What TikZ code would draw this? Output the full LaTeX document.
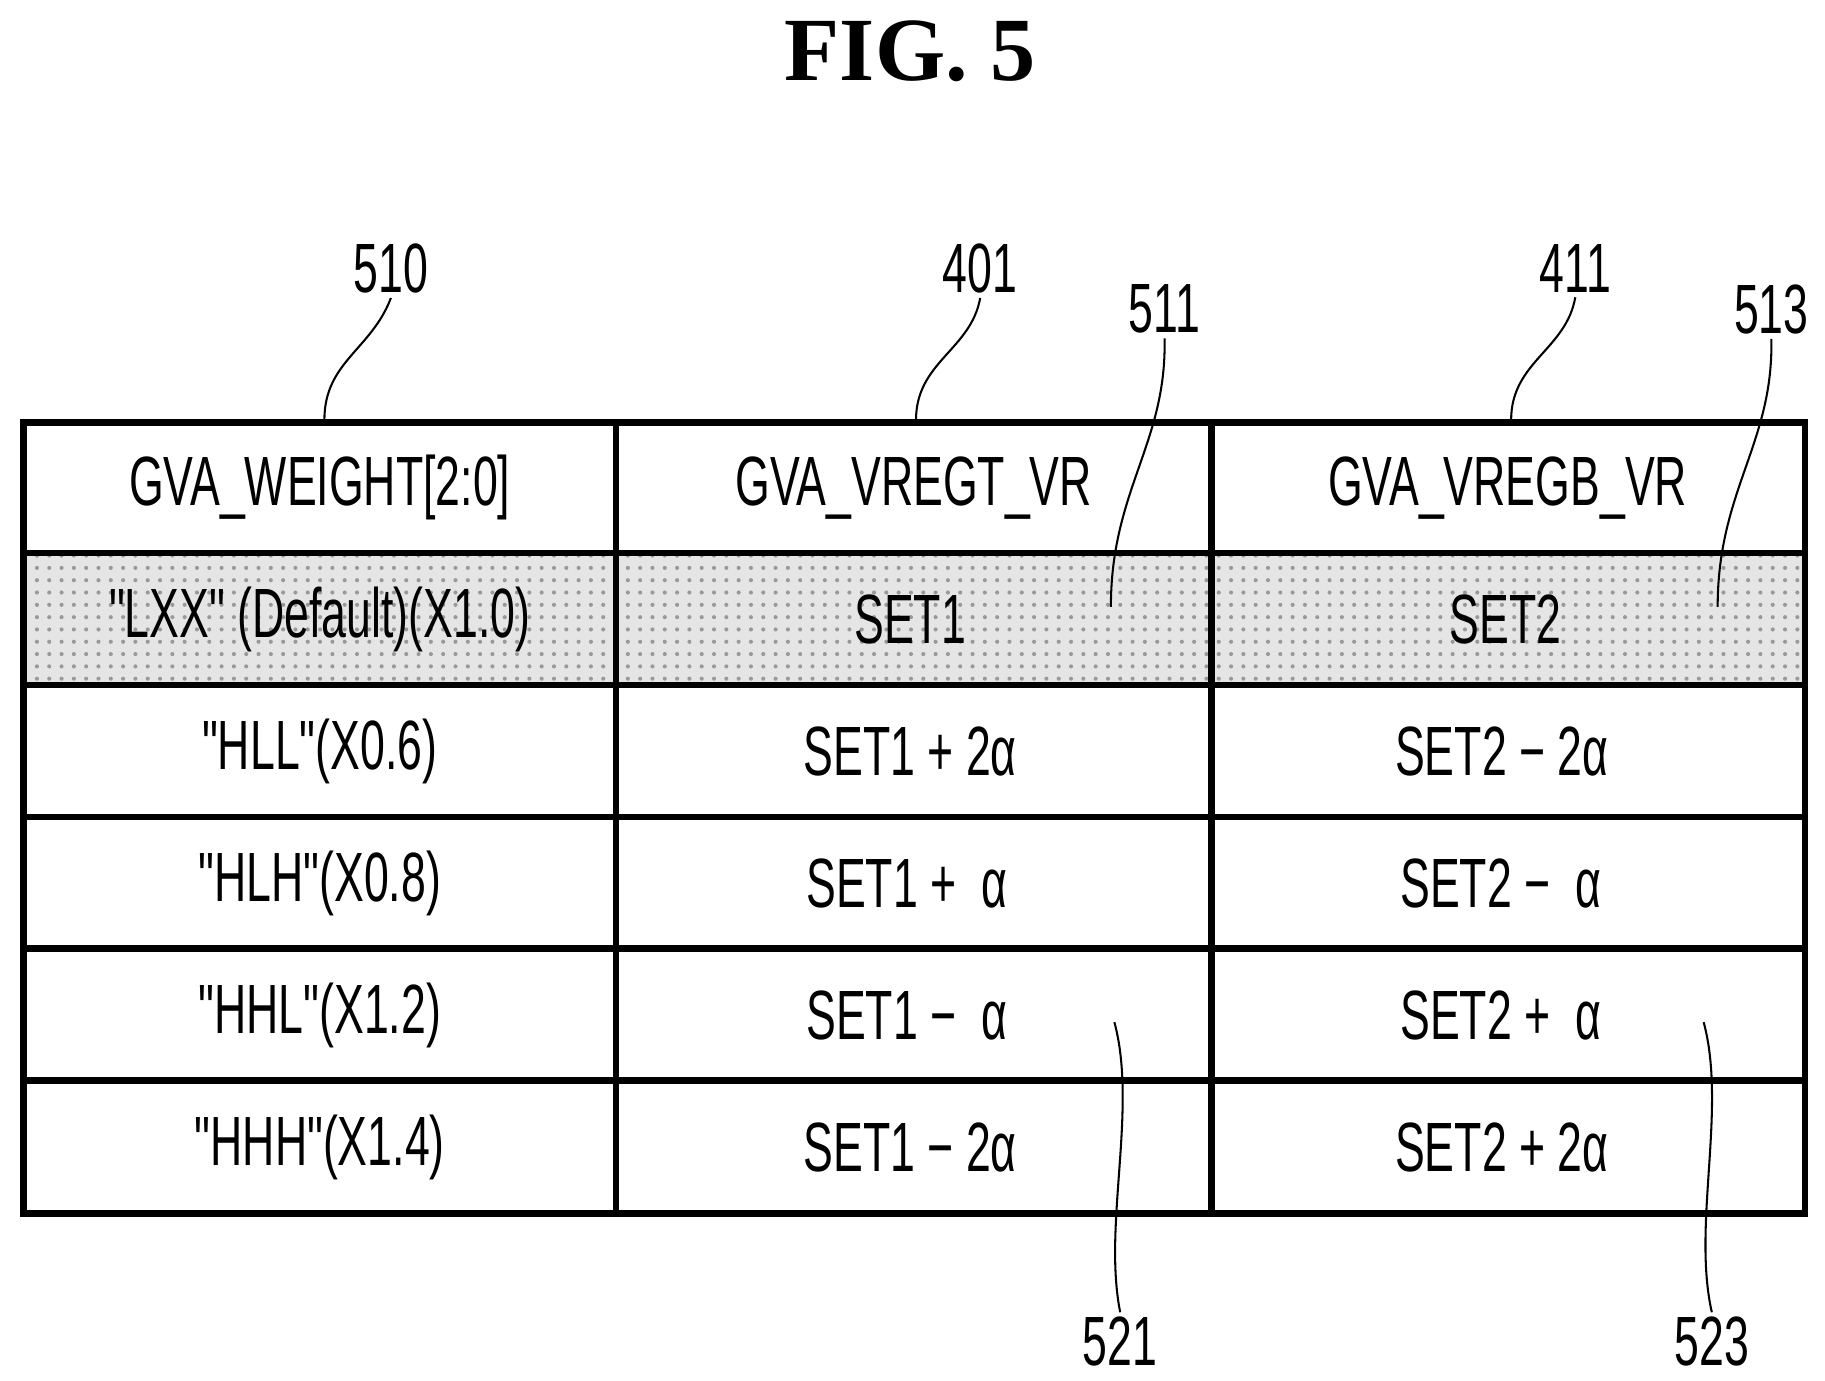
\documentclass[tikz,border=0pt]{standalone}
\usepackage{fontspec}
\usepackage{graphicx}
\setmainfont{Liberation Sans}
\newfontfamily\cellfont{Liberation Sans}
\newfontfamily\figfont{Liberation Serif}
\usetikzlibrary{patterns}
\newcommand{\nt}[1]{{\cellfont\fontsize{17}{19}\selectfont\scalebox{0.64}[1]{#1}}}
\begin{document}
\begin{tikzpicture}[x=0.01cm,y=-0.01cm,
  cell/.style={inner sep=0pt},
  lbl/.style={inner sep=1pt},
  lead/.style={line width=0.5pt},
  grid/.style={line width=1.6pt}]
\useasboundingbox (0,0) rectangle (1564,1183);
\node[font=\figfont\bfseries\fontsize{22}{24}\selectfont] (title) at (780,44) {FIG. 5};
% shaded row
\fill[black!10] (20,474) rectangle (1547,587);
\fill[pattern=dots,pattern color=black!40] (20,474) rectangle (1547,587);
% grid
\draw[grid] (20,362) rectangle (1547,1040);
\foreach \x in {528,1038} \draw[grid] (\x,362) -- (\x,1040);
\foreach \y in {474,587,700,813,926} \draw[grid] (20,\y) -- (1547,\y);
% texts
\node[cell] (h1) at (274,418) {\nt{GVA\_WEIGHT[2:0]}};
\node[cell] (h2) at (783,418) {\nt{GVA\_VREGT\_VR}};
\node[cell] (h3) at (1292,418) {\nt{GVA\_VREGB\_VR}};
\node[cell] (a1) at (274,531) {\nt{"LXX" (Default)(X1.0)}};
\node[cell] (a2) at (780,531) {\nt{SET1}};
\node[cell] (a3) at (1290,531) {\nt{SET2}};
\node[cell] (b1) at (274,644) {\nt{"HLL"(X0.6)}};
\node[cell] (b2) at (780,644) {\nt{SET1 + 2α}};
\node[cell] (b3) at (1287,644) {\nt{SET2 − 2α}};
\node[cell] (c1) at (274,757) {\nt{"HLH"(X0.8)}};
\node[cell] (c2) at (777,757) {\nt{SET1 +\ \ α}};
\node[cell] (c3) at (1286,757) {\nt{SET2 −\ \ α}};
\node[cell] (d1) at (274,870) {\nt{"HHL"(X1.2)}};
\node[cell] (d2) at (777,870) {\nt{SET1 −\ \ α}};
\node[cell] (d3) at (1286,870) {\nt{SET2 +\ \ α}};
\node[cell] (e1) at (274,983) {\nt{"HHH"(X1.4)}};
\node[cell] (e2) at (780,983) {\nt{SET1 − 2α}};
\node[cell] (e3) at (1287,983) {\nt{SET2 + 2α}};
% reference labels
\node[lbl] (n510) at (335,230) {\nt{510}};
\node[lbl] (n401) at (840,230) {\nt{401}};
\node[lbl] (n411) at (1350,230) {\nt{411}};
\node[lbl] (n511) at (998,265) {\nt{511}};
\node[lbl] (n513) at (1518,265) {\nt{513}};
\node[lbl] (n521) at (960,1150) {\nt{521}};
\node[lbl] (n523) at (1467,1150) {\nt{523}};
\coordinate (p510) at (278,360);
\coordinate (p401) at (785,360);
\coordinate (p411) at (1295,360);
\coordinate (p511) at (952,520);
\coordinate (p513) at (1472,520);
\coordinate (p521) at (955,876);
\coordinate (p523) at (1460,876);
\draw[lead] (p510) .. controls (278,310) and (318,300) .. (n510.south);
\draw[lead] (p401) .. controls (785,310) and (832,300) .. (n401.south);
\draw[lead] (p411) .. controls (1295,310) and (1342,300) .. (n411.south);
\draw[lead] (p511) .. controls (952,420) and (1000,380) .. (n511.south);
\draw[lead] (p513) .. controls (1472,420) and (1520,380) .. (n513.south);
\draw[lead] (p521) .. controls (975,950) and (945,1050) .. (n521.north);
\draw[lead] (p523) .. controls (1480,950) and (1450,1050) .. (n523.north);
\end{tikzpicture}
\end{document}
